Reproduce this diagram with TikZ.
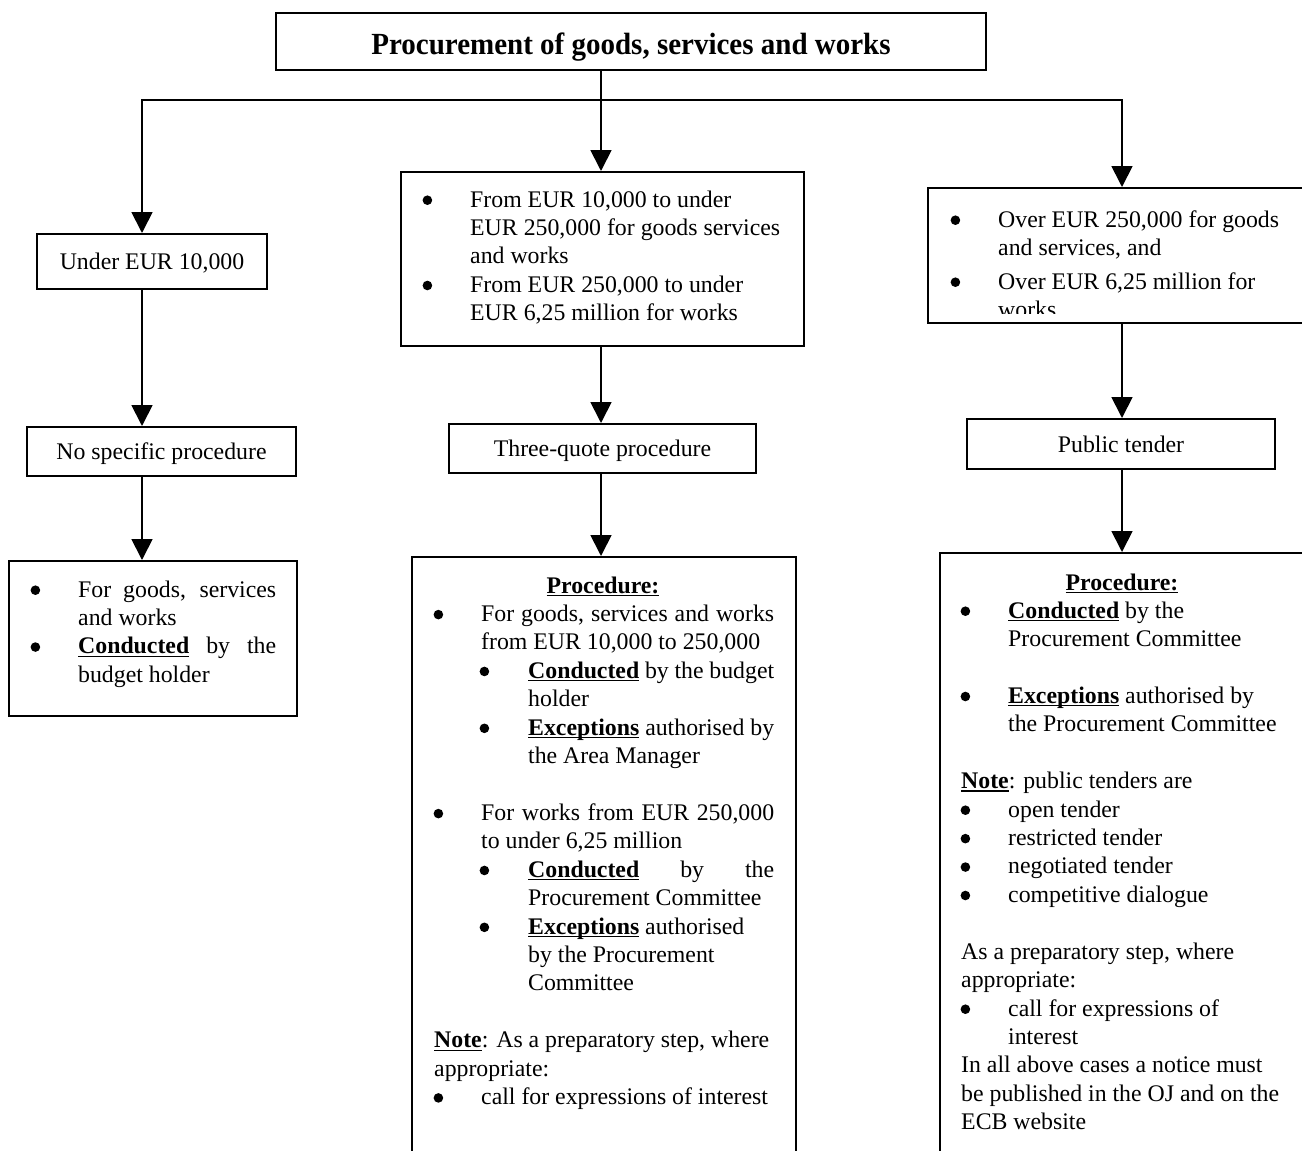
\documentclass[tikz,border=0pt]{standalone}
\usepackage{fontspec}
\usepackage{graphicx}
\setmainfont{Liberation Serif}
\usetikzlibrary{arrows.meta}
\newcommand\bodyfont{\fontsize{23.8}{28.43}\selectfont}
\newcommand\titlefont{\fontsize{29}{34}\selectfont\bfseries}
\newcommand\bdot{\tikz[baseline=-6.8pt]\fill (0,0) circle (4.8pt);}
\newcommand\bulA[1]{\hbox{\makebox[47pt][l]{\hspace*{-0.6pt}\bdot}#1}}
\newcommand\contA[1]{\hbox{\hspace*{47pt}#1}}
\newcommand\bulB[1]{\hbox{\hspace*{46pt}\makebox[48pt][l]{\hspace*{-0.6pt}\bdot}#1}}
\newcommand\contB[1]{\hbox{\hspace*{94pt}#1}}
\newcommand\pline[1]{\hbox{#1}}
\newcommand\eline{\hbox{}}
\newcommand\just[2]{\makebox[#1][s]{#2}}
\newcommand\ubf[1]{\setbox0\hbox{\textbf{#1}}\rlap{\rule[-3.2pt]{\wd0}{1.3pt}}\box0\relax}
\newcommand\unl[1]{\setbox0\hbox{\textbf{#1}}\rlap{\rule[-3.2pt]{\wd0}{1.3pt}}\box0\relax}
\tikzset{
  box/.style={draw, line width=2pt, inner sep=0pt, font=\bodyfont, text height=16pt, text depth=0pt},
  conn/.style={line width=1.8pt},
  arr/.style={conn, -{Triangle[width=21pt,length=21pt]}},
  txt/.style={inner sep=0pt, anchor=base west, font=\bodyfont},
}
\begin{document}
\begin{tikzpicture}[x=1pt,y=-1pt]
\useasboundingbox (0,0) rectangle (1302,1151);
\clip (0,0) rectangle (1302,1151);
% boxes
\node[box, minimum width=710pt, minimum height=57pt] (title) at (631,41.5) {};
\node[inner sep=0pt, anchor=base, font=\titlefont] (titlet) at (631,54) {\scalebox{1}[1.06]{Procurement of goods, services and works}};
\node[box, minimum width=230pt, minimum height=55pt] (l1) at (152,261.5) {Under EUR 10,000};
\node[box, minimum width=403pt, minimum height=174pt] (m1) at (602.5,259) {};
\node[box, minimum width=388pt, minimum height=135pt] (r1) at (1122,255.5) {};
\node[box, minimum width=269pt, minimum height=49pt] (l2) at (161.5,451.5) {No specific procedure};
\node[box, minimum width=307pt, minimum height=49pt] (m2) at (602.5,448.5) {Three-quote procedure};
\node[box, minimum width=308pt, minimum height=50pt] (r2) at (1121,444) {Public tender};
\node[box, minimum width=288pt, minimum height=155pt] (l3) at (153,638.5) {};
\node[box, minimum width=384pt, minimum height=640pt] (m3) at (604,877) {};
\node[box, minimum width=364pt, minimum height=640pt] (r3) at (1122,873) {};
% connectors
\coordinate (cL) at (142,100);
\coordinate (cM) at (601,100);
\coordinate (cR) at (1122,100);
\draw[arr] (title.south -| cM) -- (cM |- m1.north);
\draw[arr] (cM) -- (cL) -- (cL |- l1.north);
\draw[arr] (cM) -- (cR) -- (cR |- r1.north);
\draw[arr] (cL |- l1.south) -- (cL |- l2.north);
\draw[arr] (cL |- l2.south) -- (cL |- l3.north);
\draw[arr] (cM |- m1.south) -- (cM |- m2.north);
\draw[arr] (cM |- m2.south) -- (cM |- m3.north);
\draw[arr] (cR |- r1.south) -- (cR |- r2.north);
\draw[arr] (cR |- r2.south) -- (cR |- r3.north);
% texts
\node[txt] (m1t) at (423,207) {\vtop{%
\bulA{From EUR 10,000 to under}
\contA{EUR 250,000 for goods services}
\contA{and works}
\bulA{From EUR 250,000 to under}
\contA{EUR 6,25 million for works}}};
\node[txt] (r1a) at (951,227) {\vtop{%
\bulA{Over EUR 250,000 for goods}
\contA{and services, and}}};
\begin{scope}
\clip (900,260) rectangle (1302,313);
\node[txt] (r1b) at (951,289) {\vtop{%
\bulA{Over EUR 6,25 million for}
\contA{works}}};
\end{scope}
\node[txt] (l3t) at (31,597) {\vtop{%
\bulA{\just{198pt}{For goods, services}}
\contA{and works}
\bulA{\just{198pt}{\ubf{Conducted} by the}}
\contA{budget holder}}};
\node[txt, anchor=base] (m3h) at (603,593) {\ubf{Procedure:}};
\node[txt] (m3t) at (434,621.4) {\vtop{%
\bulA{\just{293pt}{For goods, services and works}}
\contA{from EUR 10,000 to 250,000}
\bulB{\just{246pt}{\ubf{Conducted} by the budget}}
\contB{holder}
\bulB{\just{246pt}{\ubf{Exceptions} authorised by}}
\contB{the Area Manager}
\eline
\bulA{\just{293pt}{For works from EUR 250,000}}
\contA{to under 6,25 million}
\bulB{\just{246pt}{\ubf{Conducted} by the}}
\contB{Procurement Committee}
\bulB{\ubf{Exceptions} authorised}
\contB{by the Procurement}
\contB{Committee}
\eline
\pline{\unl{Note}: As a preparatory step, where}
\pline{appropriate:}
\bulA{call for expressions of interest}}};
\node[txt, anchor=base] (r3h) at (1122,590) {\ubf{Procedure:}};
\node[txt] (r3t) at (961,618) {\vtop{%
\bulA{\ubf{Conducted} by the}
\contA{Procurement Committee}
\eline
\bulA{\ubf{Exceptions} authorised by}
\contA{the Procurement Committee}
\eline
\pline{\unl{Note}: public tenders are}
\bulA{open tender}
\bulA{restricted tender}
\bulA{negotiated tender}
\bulA{competitive dialogue}
\eline
\pline{As a preparatory step, where}
\pline{appropriate:}
\bulA{call for expressions of}
\contA{interest}
\pline{In all above cases a notice must}
\pline{be published in the OJ and on the}
\pline{ECB website}}};
\end{tikzpicture}
\end{document}
